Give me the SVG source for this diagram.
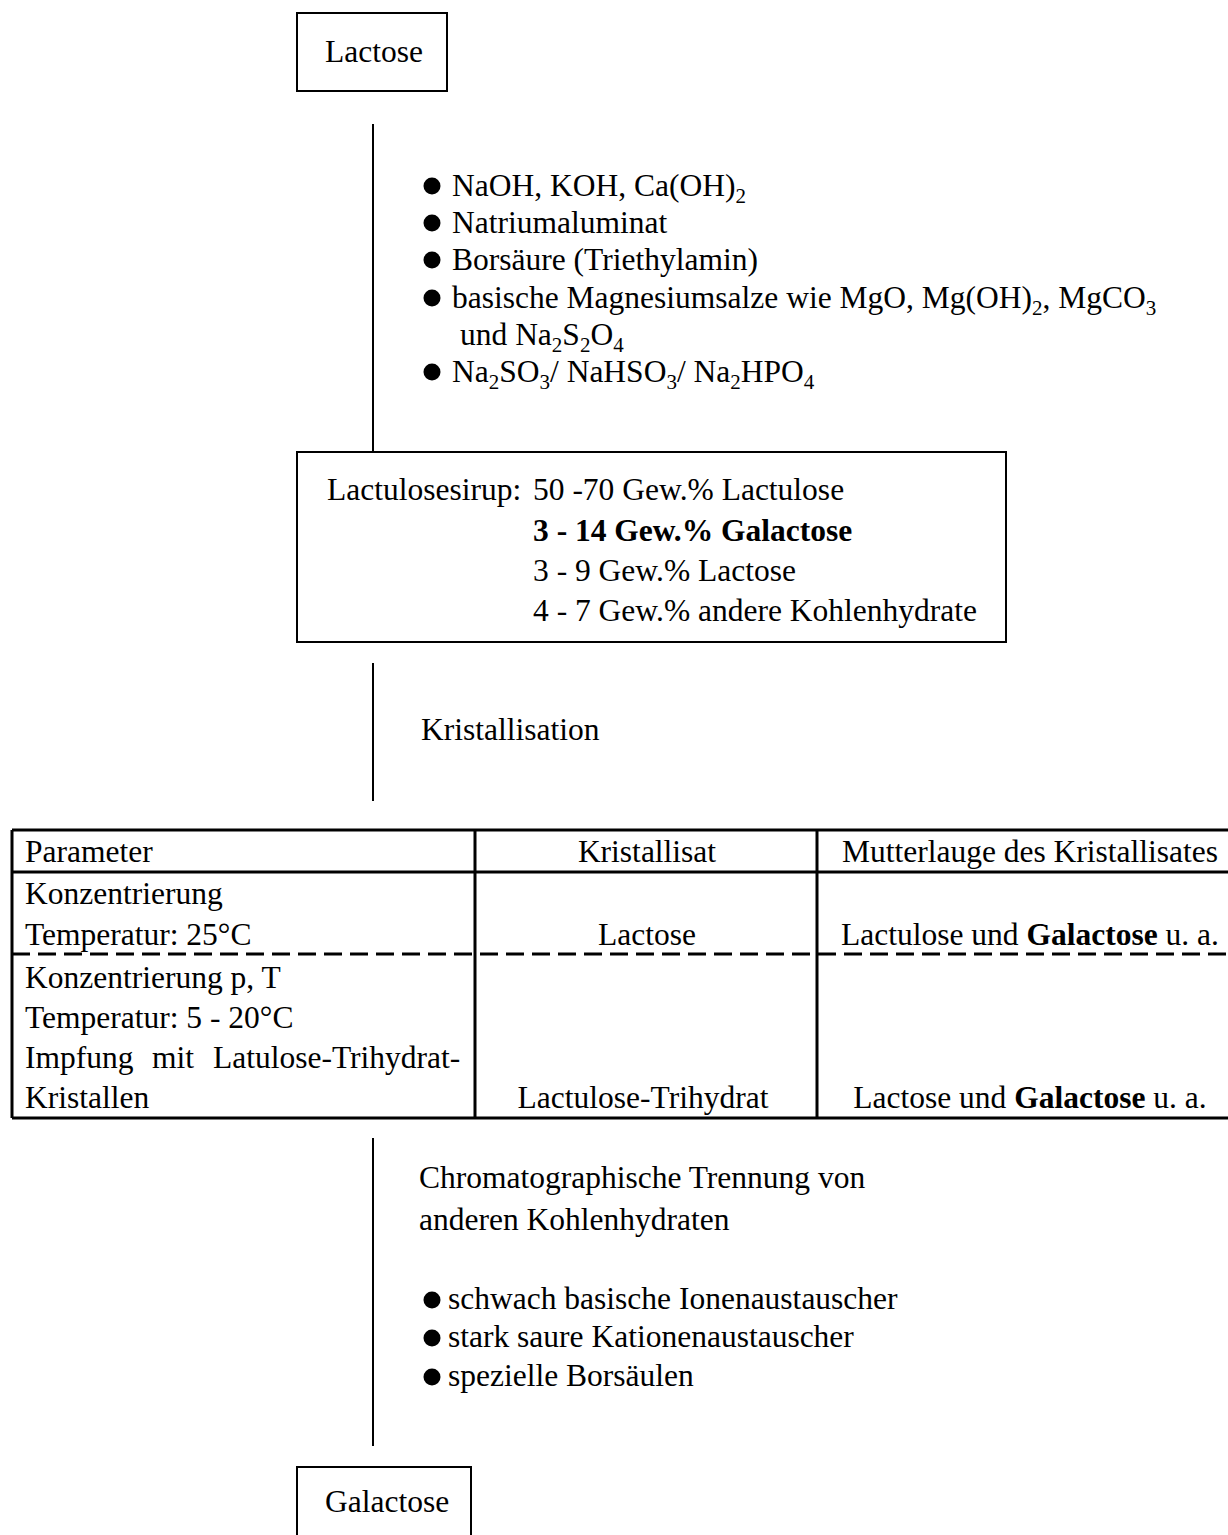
<svg xmlns="http://www.w3.org/2000/svg" width="1228" height="1535" viewBox="0 0 1228 1535">
<style>
text{font-family:"Liberation Serif","Times New Roman",serif;font-size:31.5px;fill:#000}
.b{font-weight:bold}
.box{fill:#fff;stroke:#000;stroke-width:2}
.con{stroke:#000;stroke-width:2;fill:none}
.tl{stroke:#000;stroke-width:3;fill:none}
.dash{stroke:#000;stroke-width:3;stroke-dasharray:18 8;fill:none}
.mid{text-anchor:middle}
</style>
<defs><circle id="dot" r="8.5" fill="#000"/></defs>
<rect width="1228" height="1535" fill="#fff"/>
<g id="connectors">
<line class="con" x1="373" y1="124" x2="373" y2="452"/>
<line class="con" x1="373" y1="663" x2="373" y2="801"/>
<line class="con" x1="373" y1="1138" x2="373" y2="1446"/>
</g>
<g id="node-lactose">
<rect class="box" x="297" y="13" width="150" height="78"/>
<text x="325" y="62">Lactose</text>
</g>
<g id="label-reagents">
<use href="#dot" x="432" y="186"/>
<text x="452" y="196">NaOH, KOH, Ca(OH)<tspan font-size="21" dy="7">2</tspan></text>
<use href="#dot" x="432" y="223"/>
<text x="452" y="233">Natriumaluminat</text>
<use href="#dot" x="432" y="260"/>
<text x="452" y="270">Borsäure (Triethylamin)</text>
<use href="#dot" x="432" y="298"/>
<text x="452" y="308">basische Magnesiumsalze wie MgO, Mg(OH)<tspan font-size="21" dy="7">2</tspan><tspan dy="-7">, MgCO</tspan><tspan font-size="21" dy="7">3</tspan></text>
<text x="460" y="345">und Na<tspan font-size="21" dy="7">2</tspan><tspan dy="-7">S</tspan><tspan font-size="21" dy="7">2</tspan><tspan dy="-7">O</tspan><tspan font-size="21" dy="7">4</tspan></text>
<use href="#dot" x="432" y="372"/>
<text x="452" y="382">Na<tspan font-size="21" dy="7">2</tspan><tspan dy="-7">SO</tspan><tspan font-size="21" dy="7">3</tspan><tspan dy="-7">/ NaHSO</tspan><tspan font-size="21" dy="7">3</tspan><tspan dy="-7">/ Na</tspan><tspan font-size="21" dy="7">2</tspan><tspan dy="-7">HPO</tspan><tspan font-size="21" dy="7">4</tspan></text>
</g>
<g id="node-sirup">
<rect class="box" x="297" y="452" width="709" height="190"/>
<text x="327" y="500">Lactulosesirup:</text>
<text x="533" y="500">50 -70 Gew.% Lactulose</text>
<text class="b" x="533" y="541">3 - 14 Gew.% Galactose</text>
<text x="533" y="581">3 - 9 Gew.% Lactose</text>
<text x="533" y="621">4 - 7 Gew.% andere Kohlenhydrate</text>
</g>
<g id="label-kristallisation">
<text x="421" y="740">Kristallisation</text>
</g>
<g id="node-table">
<line class="tl" x1="12" y1="830" x2="1241" y2="830"/>
<line class="tl" x1="12" y1="872" x2="1241" y2="872"/>
<line class="tl" x1="12" y1="1118" x2="1241" y2="1118"/>
<line class="tl" x1="12" y1="830" x2="12" y2="1118"/>
<line class="tl" x1="475" y1="830" x2="475" y2="1118"/>
<line class="tl" x1="817" y1="830" x2="817" y2="1118"/>
<line class="dash" x1="12" y1="954" x2="1241" y2="954"/>
<text x="25" y="862">Parameter</text>
<text class="mid" x="647" y="862">Kristallisat</text>
<text class="mid" x="1030" y="862">Mutterlauge des Kristallisates</text>
<text x="25" y="904">Konzentrierung</text>
<text x="25" y="945">Temperatur: 25°C</text>
<text class="mid" x="647" y="945">Lactose</text>
<text class="mid" x="1030" y="945">Lactulose und <tspan class="b">Galactose</tspan> u. a.</text>
<text x="25" y="988">Konzentrierung p, T</text>
<text x="25" y="1028">Temperatur: 5 - 20°C</text>
<text x="25" y="1068">Impfung</text>
<text x="152" y="1068">mit</text>
<text x="213" y="1068">Latulose-Trihydrat-</text>
<text x="25" y="1108">Kristallen</text>
<text class="mid" x="643" y="1108">Lactulose-Trihydrat</text>
<text class="mid" x="1030" y="1108">Lactose und <tspan class="b">Galactose</tspan> u. a.</text>
</g>
<g id="label-chromatographie">
<text x="419" y="1188">Chromatographische Trennung von</text>
<text x="419" y="1230">anderen Kohlenhydraten</text>
<use href="#dot" x="432" y="1300"/>
<text x="448" y="1309">schwach basische Ionenaustauscher</text>
<use href="#dot" x="432" y="1338"/>
<text x="448" y="1347">stark saure Kationenaustauscher</text>
<use href="#dot" x="432" y="1377"/>
<text x="448" y="1386">spezielle Borsäulen</text>
</g>
<g id="node-galactose">
<rect class="box" x="297" y="1467" width="174" height="100"/>
<text x="325" y="1512">Galactose</text>
</g>
</svg>
